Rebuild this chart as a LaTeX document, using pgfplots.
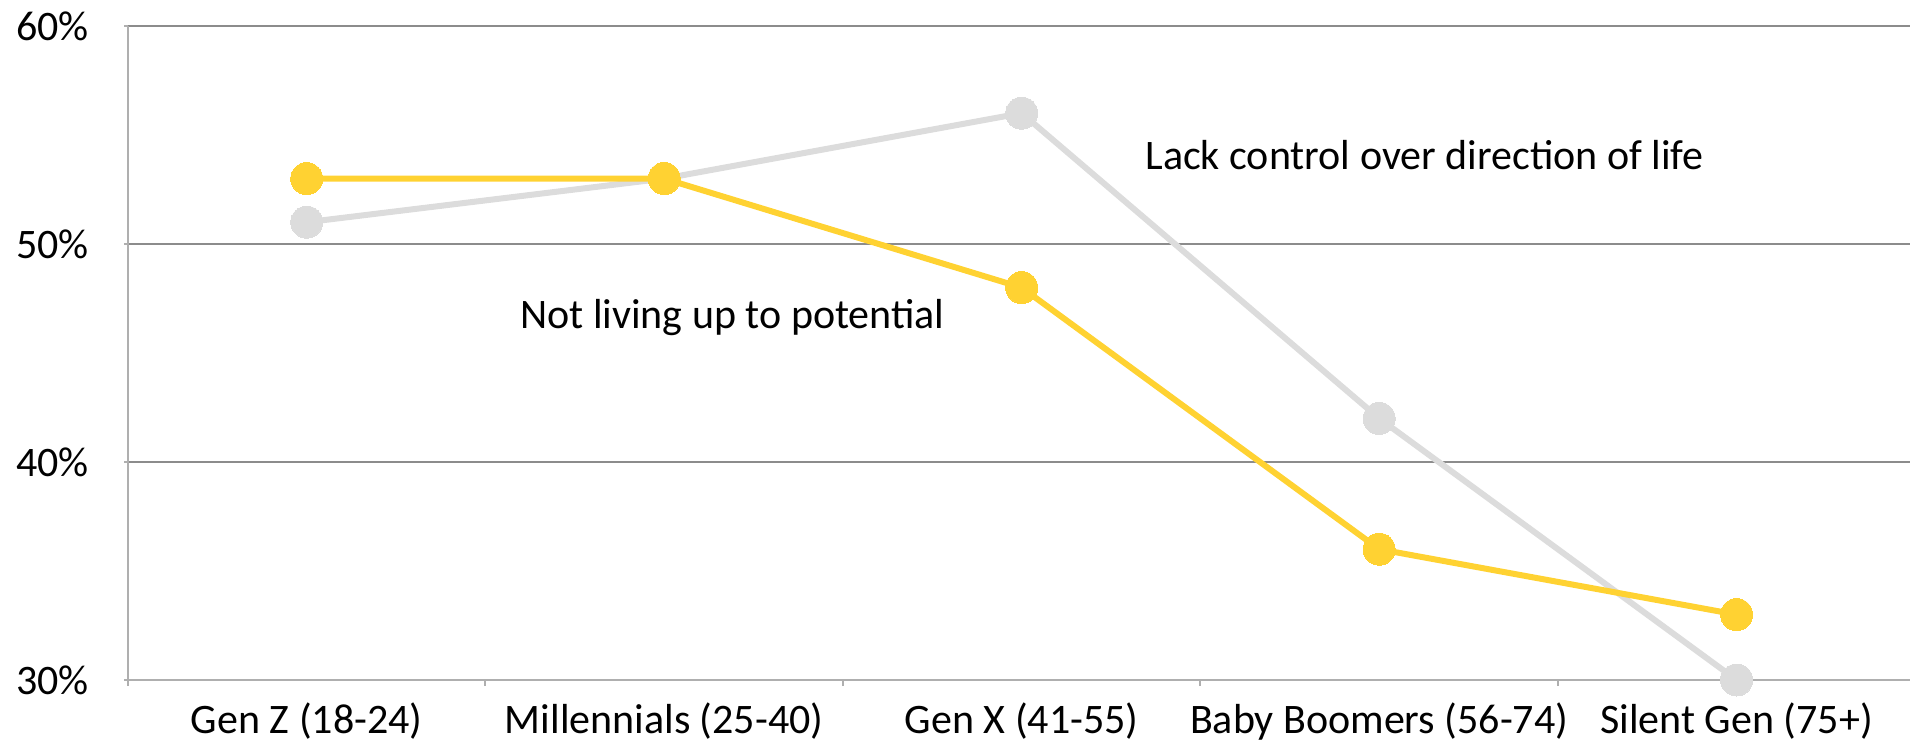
\documentclass[border=0pt]{standalone}
\usepackage{pgfplots}
\pgfplotsset{compat=1.18}
\usepackage{fontspec}
\setmainfont{Carlito}
\definecolor{yel}{HTML}{FFD232}
\definecolor{gry}{HTML}{DCDCDC}
\definecolor{gridc}{HTML}{8C8C8C}
\definecolor{axl}{HTML}{AFAFAF}
\begin{document}
\begin{tikzpicture}[font=\fontsize{21pt}{25pt}\selectfont]
\begin{axis}[
  at={(64pt,32pt)}, anchor=south west,
  scale only axis, width=891pt, height=327pt,
  xmin=-0.5, xmax=4.485, ymin=30, ymax=60,
  clip=false,
  axis lines*=left,
  axis line style={axl, line width=1pt},
  tick align=outside,
  xtick={0,1,2,3,4},
  xticklabels={Gen Z (18-24), Millennials (25-40), Gen X (41-55), Baby Boomers (56-74), Silent Gen (75+)},
  major x tick style={draw=none},
  minor xtick={-0.5,0.5,1.5,2.5,3.5},
  minor tick length=3pt,
  minor x tick style={axl, line width=1pt},
  xticklabel style={anchor=north, inner sep=0pt, yshift=-9pt},
  ytick={40,50,60},
  yticklabels={40\%,50\%,60\%},
  extra y ticks={30},
  extra y tick labels={30\%},
  extra y tick style={grid=none},
  ymajorgrids,
  grid style={gridc, line width=1pt},
  major tick length=2pt,
  y tick style={axl, line width=1pt},
  yticklabel style={anchor=east, inner sep=0pt, xshift=-17.5pt},
]
\addplot[gry, line width=3pt, mark=*, mark size=8pt, mark options={fill=gry, draw=gry, line width=0pt}]
  coordinates {(0,51) (1,53) (2,56) (3,42) (4,30)};
\addplot[yel, line width=3pt, mark=*, mark size=8pt, mark options={fill=yel, draw=yel, line width=0pt}]
  coordinates {(0,53) (1,53) (2,48) (3,36) (4,33)};
\node[anchor=west, inner sep=0pt] at (axis cs:0.596,46.65) {Not living up to potential};
\node[anchor=west, inner sep=0pt] at (axis cs:2.345,54.08) {Lack control over direction of life};
\end{axis}
\pgfresetboundingbox
\path (0,0) rectangle (955pt,372pt);
\end{tikzpicture}
\end{document}
